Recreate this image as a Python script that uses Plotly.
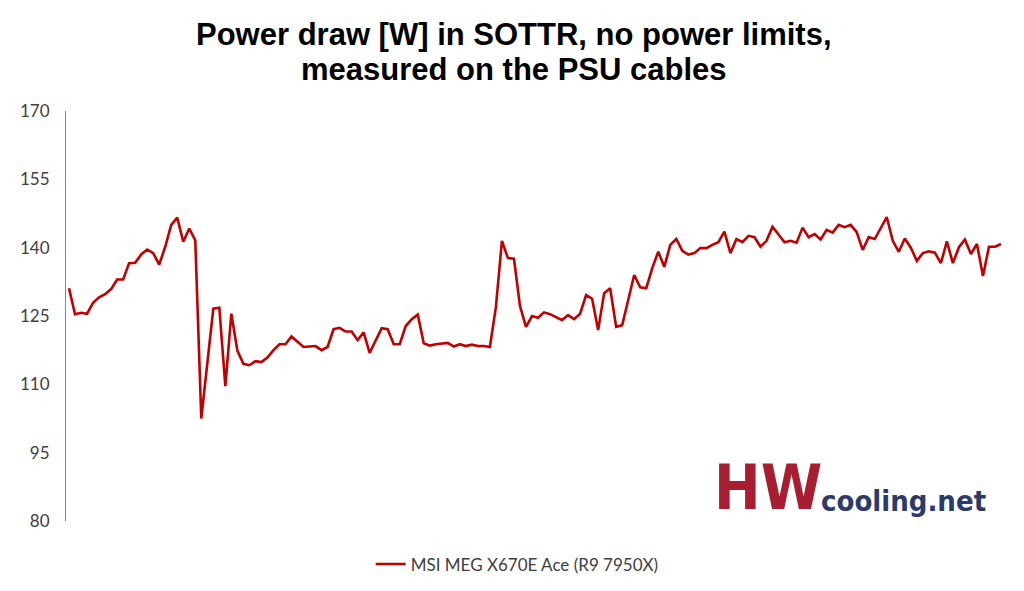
import plotly.graph_objects as go

series_name = "MSI MEG X670E Ace (R9 7950X)"
power_w = [
    131.1, 125.4, 125.7, 125.5, 127.9, 129.1, 129.8, 130.9, 133.0, 133.0,
    136.6, 136.7, 138.5, 139.6, 138.8, 136.3, 140.2, 145.0, 146.6, 141.3,
    144.2, 141.6, 102.5, 114.5, 126.6, 126.8, 109.6, 125.5, 117.4, 114.5,
    114.2, 115.1, 114.9, 115.9, 117.5, 118.8, 118.8, 120.5, 119.4, 118.2,
    118.3, 118.4, 117.5, 118.2, 122.1, 122.4, 121.6, 121.6, 119.7, 121.4,
    116.9, 119.5, 122.3, 122.1, 118.8, 118.8, 122.8, 124.3, 125.3, 119.0,
    118.5, 118.8, 119.0, 119.1, 118.3, 118.8, 118.4, 118.7, 118.4, 118.4,
    118.2, 127.0, 141.5, 137.7, 137.6, 127.2, 122.6, 125.0, 124.6, 125.8,
    125.4, 124.8, 124.1, 125.2, 124.3, 125.5, 129.6, 128.8, 121.9, 130.0,
    131.1, 122.6, 123.0, 128.5, 134.0, 131.3, 131.1, 135.5, 139.1, 135.8,
    140.6, 141.9, 139.3, 138.5, 138.8, 139.9, 139.9, 140.6, 141.2, 143.5,
    138.8, 141.9, 141.2, 142.6, 142.3, 140.2, 141.5, 144.6, 142.8, 141.2,
    141.5, 141.1, 144.4, 142.3, 143.0, 141.8, 143.9, 143.3, 145.0, 144.5,
    145.0, 143.4, 139.5, 142.3, 141.9, 144.2, 146.7, 141.5, 139.1, 142.0,
    140.0, 137.1, 138.8, 139.2, 138.9, 136.6, 141.4, 136.6, 140.1, 141.8,
    138.6, 140.8, 133.8, 140.2, 140.2, 140.8,
]
samples = list(range(len(power_w)))
y_ticks = [80, 95, 110, 125, 140, 155, 170]
title_lines = ["Power draw [W] in SOTTR, no power limits,", "measured on the PSU cables"]

fig = go.Figure()
fig.add_trace(go.Scatter(
    x=samples, y=power_w, mode="lines", name=series_name,
    line=dict(color="#c00000", width=2.6),
))

fig.update_layout(
    width=1024, height=591,
    paper_bgcolor="white", plot_bgcolor="white",
    margin=dict(l=53, r=28, t=103, b=78),
    xaxis=dict(range=[-0.5, len(power_w) - 0.5], showgrid=False, zeroline=False,
               showticklabels=False, showline=False, ticks=""),
    yaxis=dict(range=[80, 170], tickvals=y_ticks, showgrid=False, zeroline=False,
               showline=True, linecolor="#868686", linewidth=1, ticks="",
               tickfont=dict(family="Lato, Noto Sans, sans-serif", size=17, color="#404040"),
               ticklabelstandoff=12),
    showlegend=True,
    legend=dict(orientation="h", x=0.481, xanchor="center", y=-0.062, yanchor="top",
                font=dict(family="Lato, Noto Sans, sans-serif", size=17, color="#404040")),
)

# title, two lines
for line_text, ypos in zip(title_lines, [1.1854, 1.1]):
    fig.add_annotation(xref="paper", yref="paper", x=0.478, y=ypos, xanchor="center", yanchor="middle",
                       text="<b>" + line_text + "</b>", showarrow=False,
                       font=dict(family="Liberation Sans, Arial, sans-serif", size=31, color="black"))

# watermark logo (as text)
fig.add_annotation(xref="paper", yref="paper", x=0.6888, y=-0.0117, xanchor="left", yanchor="bottom",
                   text="<b>HW</b>", showarrow=False,
                   font=dict(family="DejaVu Sans Condensed, Liberation Sans Narrow, Liberation Sans, sans-serif",
                             size=62, color="#a61e30"))
fig.add_annotation(xref="paper", yref="paper", x=0.8032, y=0.0034, xanchor="left", yanchor="bottom",
                   text="<b>cooling.net</b>", showarrow=False,
                   font=dict(family="DejaVu Sans Condensed, Liberation Sans Narrow, Liberation Sans, sans-serif",
                             size=29, color="#2b3a6b"))

fig.write_html("out.html")
